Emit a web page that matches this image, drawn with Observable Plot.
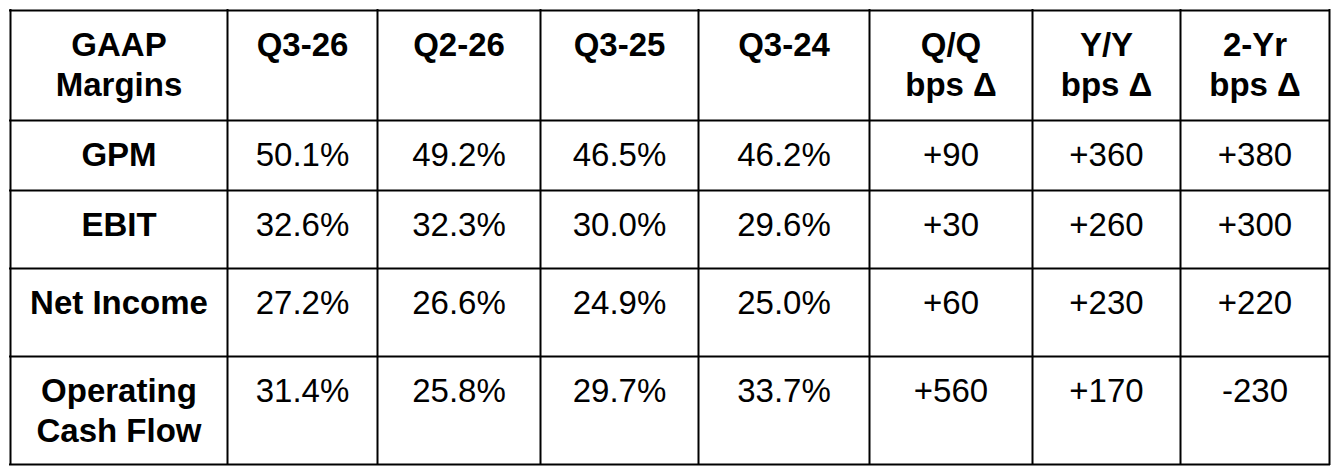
<!DOCTYPE html>
<html>
<head>
<meta charset="utf-8">
<script src="https://cdn.jsdelivr.net/npm/d3@7"></script>
<script src="https://cdn.jsdelivr.net/npm/@observablehq/plot@0.6"></script>
<style>
  html, body { margin: 0; padding: 0; background: #fff; }
  #chart svg { display: block; }
</style>
</head>
<body>
<div id="chart"></div>
<script>
// ---- data ----
const headers = ["GAAP\nMargins", "Q3-26", "Q2-26", "Q3-25", "Q3-24", "Q/Q\nbps Δ", "Y/Y\nbps Δ", "2-Yr\nbps Δ"];
const metrics = ["GPM", "EBIT", "Net Income", "Operating\nCash Flow"];
const q3_26 = [50.1, 32.6, 27.2, 31.4];
const q2_26 = [49.2, 32.3, 26.6, 25.8];
const q3_25 = [46.5, 30.0, 24.9, 29.7];
const q3_24 = [46.2, 29.6, 25.0, 33.7];
const qoqBps = [90, 30, 60, 560];
const yoyBps = [360, 260, 230, 170];
const twoYrBps = [380, 300, 220, -230];

// ---- build table cells ----
const pct = v => v.toFixed(1) + "%";
const bps = v => (v > 0 ? "+" : "") + v;
const valueCols = [
  [q3_26, pct], [q2_26, pct], [q3_25, pct], [q3_24, pct],
  [qoqBps, bps], [yoyBps, bps], [twoYrBps, bps]
];

const boldCells = [
  ...headers.map((t, i) => ({col: i, row: 0, text: t})),
  ...metrics.map((t, r) => ({col: 0, row: r + 1, text: t}))
];
const valueCells = [];
valueCols.forEach(([arr, fmt], c) => {
  arr.forEach((v, r) => valueCells.push({col: c + 1, row: r + 1, text: fmt(v)}));
});

const nCols = headers.length;
const nRows = metrics.length + 1;
const colEdges = [10, 227, 377, 540, 698, 869, 1032, 1180, 1329];
const rowEdges = [10, 120, 190, 268, 356, 464];

const font = "'Liberation Sans', Arial, Helvetica, sans-serif";
const textOpts = {
  x: d => d.col + 0.5,
  y: d => d.row,
  text: d => d.text,
  textAnchor: "middle",
  lineAnchor: "top",
  dy: 17,
  lineHeight: 1.21,
  fontSize: 33,
  fontFamily: font,
  fill: "#000"
};

const chart = Plot.plot({
  width: 1340,
  height: 470,
  margin: 0,
  style: {background: "#fff", fontFamily: font},
  x: {type: "linear", domain: d3.range(nCols + 1), range: colEdges, axis: null},
  y: {type: "linear", domain: d3.range(nRows + 1), range: rowEdges, axis: null},
  marks: [
    Plot.ruleX(d3.range(nCols + 1), {x: d => d, y1: 0, y2: nRows, stroke: "#000", strokeWidth: 2, strokeLinecap: "square"}),
    Plot.ruleY(d3.range(nRows + 1), {y: d => d, x1: 0, x2: nCols, stroke: "#000", strokeWidth: 2, strokeLinecap: "square"}),
    Plot.text(boldCells, {...textOpts, fontWeight: "bold"}),
    Plot.text(valueCells, {...textOpts})
  ]
});
document.getElementById("chart").append(chart);
</script>
</body>
</html>
